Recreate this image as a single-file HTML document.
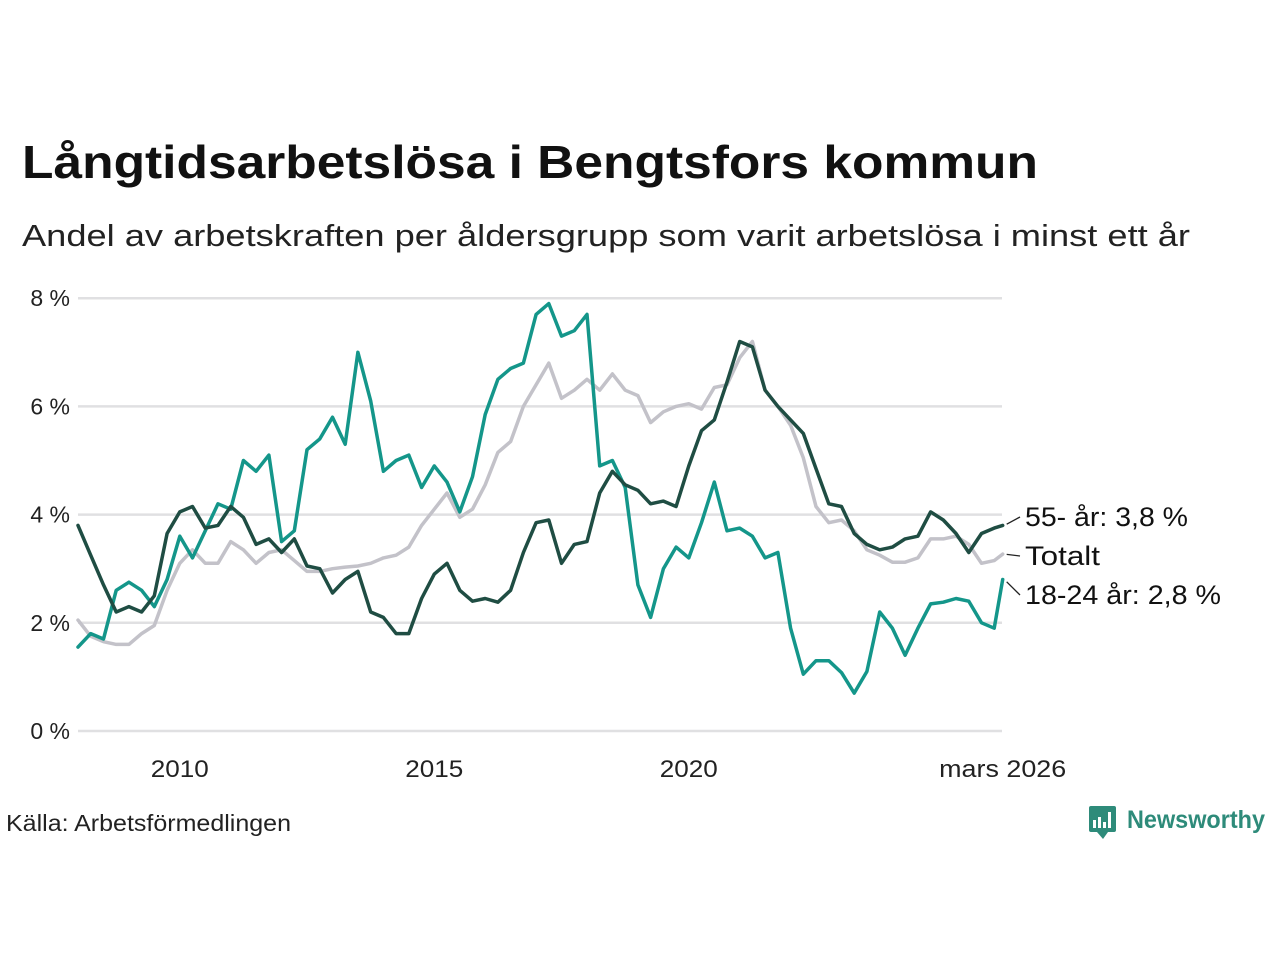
<!DOCTYPE html>
<html><head><meta charset="utf-8">
<style>
html,body{margin:0;padding:0;background:#fff;}
svg{display:block;font-family:"Liberation Sans",sans-serif;}
</style></head>
<body>
<svg id="chart" width="1280" height="960" viewBox="0 0 1280 960">
  <text x="22" y="178" font-size="46" font-weight="bold" fill="#111" textLength="1016" lengthAdjust="spacingAndGlyphs">Långtidsarbetslösa i Bengtsfors kommun</text>
  <text x="22" y="246" font-size="31" fill="#222" textLength="1168" lengthAdjust="spacingAndGlyphs">Andel av arbetskraften per åldersgrupp som varit arbetslösa i minst ett år</text>
  <g id="grid"></g>
  <g id="yticks"></g>
  <g id="xticks"></g>
  <g id="lines"></g>
  <g id="labels"></g>
  <text x="6" y="831" font-size="23" fill="#222" textLength="285" lengthAdjust="spacingAndGlyphs">Källa: Arbetsförmedlingen</text>
  <g>
    <rect x="1089" y="806" width="27" height="26" rx="2" fill="#2e8b7a"/>
    <polygon points="1097,832 1103,839 1108,832" fill="#2e8b7a"/>
    <rect x="1093" y="820" width="3" height="8" fill="#fff"/>
    <rect x="1098" y="817" width="3" height="11" fill="#fff"/>
    <rect x="1103" y="822" width="3" height="6" fill="#fff"/>
    <rect x="1108" y="812" width="3" height="16" fill="#fff"/>
    <text x="1127" y="828" font-size="25" font-weight="bold" fill="#2e8b7a" textLength="138" lengthAdjust="spacingAndGlyphs">Newsworthy</text>
  </g>
</svg>
<script>
const startYear = 2008;
const endDate = 2026 + 2/12;
const series55 = [3.8,3.25,2.7,2.2,2.3,2.2,2.5,3.65,4.05,4.15,3.75,3.8,4.15,3.95,3.45,3.55,3.3,3.55,3.05,
 3.0,2.55,2.8,2.95,2.2,2.1,1.8,1.8,2.45,2.9,3.1,2.6,2.4,2.45,2.38,2.6,3.3,3.85,3.9,
 3.1,3.45,3.5,4.4,4.8,4.55,4.45,4.2,4.25,4.15,4.9,5.55,5.75,6.45,7.2,7.1,6.3,6.0,
 5.75,5.5,4.85,4.2,4.15,3.65,3.45,3.35,3.4,3.55,3.6,4.05,3.9,3.65,3.3,3.65,3.75,3.8];
const series1824 = [1.55,1.8,1.7,2.6,2.75,2.6,2.3,2.8,3.6,3.2,3.7,4.2,4.1,5.0,4.8,5.1,3.5,3.7,5.2,
 5.4,5.8,5.3,7.0,6.1,4.8,5.0,5.1,4.5,4.9,4.6,4.05,4.7,5.85,6.5,6.7,6.8,7.7,7.9,
 7.3,7.4,7.7,4.9,5.0,4.5,2.7,2.1,3.0,3.4,3.2,3.85,4.6,3.7,3.75,3.6,3.2,3.3,
 1.9,1.05,1.3,1.3,1.08,0.7,1.1,2.2,1.9,1.4,1.9,2.35,2.38,2.45,2.4,2.0,1.9,2.8];
const seriesTotal = [2.05,1.75,1.65,1.6,1.6,1.8,1.95,2.6,3.1,3.35,3.1,3.1,3.5,3.35,3.1,3.3,3.35,3.15,2.95,
 2.95,3.0,3.03,3.05,3.1,3.2,3.25,3.4,3.8,4.1,4.4,3.95,4.1,4.55,5.15,5.35,6.0,6.4,6.8,
 6.15,6.3,6.5,6.3,6.6,6.3,6.2,5.7,5.9,6.0,6.05,5.95,6.35,6.4,6.9,7.2,6.3,6.0,
 5.65,5.05,4.15,3.85,3.9,3.7,3.35,3.25,3.12,3.12,3.2,3.55,3.55,3.6,3.45,3.1,3.15,3.27];
const yTicks = [0,2,4,6,8];
const yTickLabels = ["0 %","2 %","4 %","6 %","8 %"];
const xTicks = [2010,2015,2020,endDate];
const xTickLabels = ["2010","2015","2020","mars 2026"];

const NS = "http://www.w3.org/2000/svg";
const X0 = 78, XPX = 50.9, Y0 = 731, YPX = 54.1, XEND = 1002;
function xs(t){ return X0 + (t - startYear) * XPX; }
function ys(v){ return Y0 - v * YPX; }
function dateAt(i, n){ return i === n - 1 ? endDate : startYear + i / 4; }
function mk(tag, attrs){ const e = document.createElementNS(NS, tag); for (const k in attrs) e.setAttribute(k, attrs[k]); return e; }

const grid = document.getElementById('grid');
const yt = document.getElementById('yticks');
yTicks.forEach((v, i) => {
  const l = mk('line', {x1: X0, x2: XEND, y1: ys(v), y2: ys(v), stroke: '#e0e0e2', 'stroke-width': 2.5});
  
  
  grid.appendChild(l);
  const t = mk('text', {x: 70, y: ys(v) + 8, 'font-size': 23, fill: '#222', 'text-anchor': 'end'});
  t.textContent = yTickLabels[i];
  
  
  yt.appendChild(t);
});
const xt = document.getElementById('xticks');
xTicks.forEach((v, i) => {
  const w = xTickLabels[i].length > 4 ? 127 : 58;
  const t = mk('text', {x: xs(v) - w / 2, y: 777, 'font-size': 24, fill: '#222', textLength: w, lengthAdjust: 'spacingAndGlyphs'});
  t.textContent = xTickLabels[i];
  
  
  xt.appendChild(t);
});

const lines = document.getElementById('lines');
function drawLine(vals, color, name){
  const pts = vals.map((v, i) => xs(dateAt(i, vals.length)).toFixed(1) + ',' + ys(v).toFixed(1)).join(' ');
  const p = mk('polyline', {points: pts, fill: 'none', stroke: color, 'stroke-width': 3.5, 'stroke-linejoin': 'round', 'stroke-linecap': 'round'});
  
  
  lines.appendChild(p);
}
drawLine(seriesTotal, '#c3c2c9', 'line-totalt');
drawLine(series1824, '#14968a', 'line-18-24');
drawLine(series55, '#1f4d43', 'line-55');

const labels = document.getElementById('labels');
function label(vals, ly, text, w, name){
  const v = vals[vals.length - 1];
  const ex = xs(endDate), ey = ys(v);
  const c = mk('line', {x1: ex + 4, y1: ey + (ly - ey) * 0.15, x2: 1020, y2: ly, stroke: '#222', 'stroke-width': 1.3});
  
  
  labels.appendChild(c);
  const t = mk('text', {x: 1025, y: ly + 9, 'font-size': 27, fill: '#111', textLength: w, lengthAdjust: 'spacingAndGlyphs'});
  t.textContent = text;
  
  
  labels.appendChild(t);
}
label(series55, 517, '55- år: 3,8 %', 163, 'label-55');
label(seriesTotal, 556, 'Totalt', 75, 'label-totalt');
label(series1824, 595, '18-24 år: 2,8 %', 196, 'label-18-24');
</script>
</body></html>
